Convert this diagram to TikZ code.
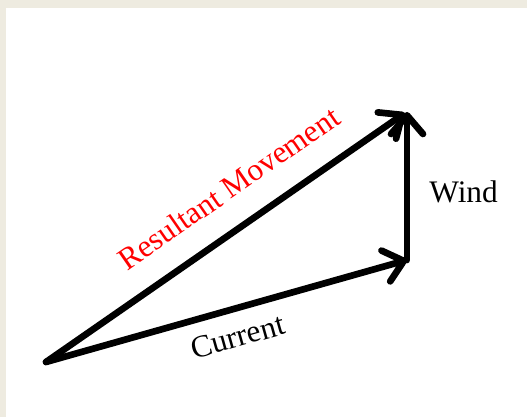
\documentclass[tikz,border=0pt]{standalone}
\usepackage{fontspec}
\setmainfont{Liberation Serif}
\usepackage{xcolor}
\usetikzlibrary{arrows.meta}
\definecolor{pagebeige}{HTML}{EEEBE0}
\tikzset{vec/.style={line width=5pt,line cap=round,-{Straight Barb[length=14pt,width=24pt,round]}}}

\begin{document}
\begin{tikzpicture}[x=0.75pt,y=-0.75pt,every node/.style={font=\fontsize{23.5}{28}\selectfont}]
	\fill[pagebeige] (0,0) rectangle (527,417);
	\fill[white] (6,8) rectangle (527,417);
	\useasboundingbox (0,0) rectangle (527,417);

	\coordinate (o) at (46,362);
	\coordinate (c) at (407,260);
	\coordinate (w) at (407,112);
	\coordinate (r) at (405,113);
	%vectors
	\draw[vec] (o) -- node[pos=.51,below=7pt,sloped]{Current} (c);
	\draw[vec] (c) -- node[pos=.46,right=11pt]{Wind} (w);
	\draw[vec] (o) -- node[pos=.57,above=15pt,sloped,text=red]{Resultant Movement} (r);
\end{tikzpicture}
\end{document}
